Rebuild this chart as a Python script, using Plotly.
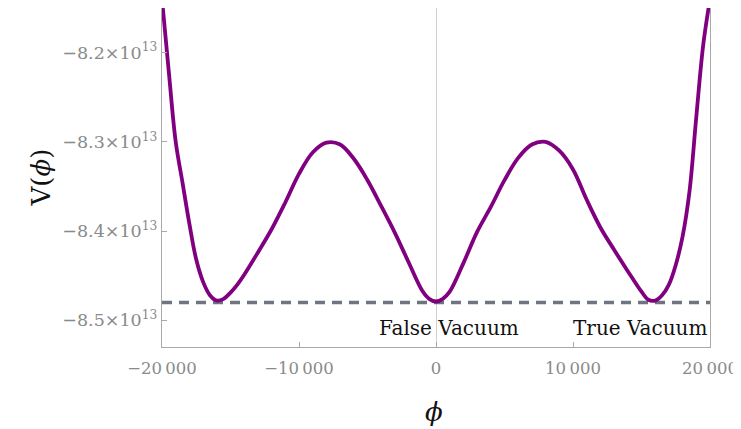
import plotly.graph_objects as go

# Field values (phi) and potential V(phi)
phi = [-20000, -19500, -19000, -18500, -18000, -17500, -17000, -16500, -16000,
       -15500, -15000, -14500, -14000, -13000, -12000, -11000, -10000, -9000,
       -8000, -7000, -6000, -5000, -4000, -3000, -2000, -1000, -500, 0,
       500, 1000, 2000, 3000, 4000, 5000, 6000, 7000, 8000, 9000, 10000,
       11000, 12000, 13000, 14000, 15000, 15500, 16000, 16500, 17000, 17500,
       18000, 18500, 19000, 19500, 20000]
V = [-8.140e13, -8.222e13, -8.300e13, -8.346e13, -8.392e13, -8.432e13, -8.457e13,
     -8.472e13, -8.478e13, -8.476e13, -8.469e13, -8.460e13, -8.449e13, -8.424e13,
     -8.398e13, -8.368e13, -8.336e13, -8.312e13, -8.301e13, -8.303e13, -8.319e13,
     -8.343e13, -8.372e13, -8.402e13, -8.435e13, -8.467e13, -8.476e13, -8.479e13,
     -8.476e13, -8.468e13, -8.436e13, -8.401e13, -8.373e13, -8.343e13, -8.318e13,
     -8.303e13, -8.300e13, -8.310e13, -8.331e13, -8.365e13, -8.396e13, -8.421e13,
     -8.445e13, -8.468e13, -8.477e13, -8.478e13, -8.472e13, -8.460e13, -8.438e13,
     -8.406e13, -8.356e13, -8.272e13, -8.192e13, -8.140e13]

vacuum_level = -8.48e13

x_ticks = [-20000, -10000, 0, 10000, 20000]
x_tick_labels = ["\u221220\u2009000", "\u221210\u2009000", "0", "10\u2009000", "20\u2009000"]
y_ticks = [-8.5e13, -8.4e13, -8.3e13, -8.2e13]
y_tick_labels = ["\u22128.5\u00d710<sup>13</sup>", "\u22128.4\u00d710<sup>13</sup>",
                 "\u22128.3\u00d710<sup>13</sup>", "\u22128.2\u00d710<sup>13</sup>"]

labels = ["False Vacuum", "True Vacuum"]
label_x = [930, 14880]
label_y = [-8.5087e13, -8.5087e13]

FONT = "DejaVu Serif"

fig = go.Figure()
fig.add_trace(go.Scatter(
    x=[-20000, 20000], y=[vacuum_level, vacuum_level], mode="lines",
    line=dict(color="#6e7480", width=3.5, dash="10px,7px"), hoverinfo="skip"))
fig.add_trace(go.Scatter(
    x=phi, y=V, mode="lines", line=dict(color="#800080", width=3.8, shape="spline", smoothing=1.0)))

for t, xx, yy in zip(labels, label_x, label_y):
    fig.add_annotation(x=xx, y=yy, text=t, showarrow=False,
                       font=dict(family=FONT, size=20, color="#111"))

fig.add_annotation(xref="paper", yref="paper", x=-0.252, y=0.5, text="V(<i>\u03d5</i>)",
                   textangle=-90, showarrow=False,
                   font=dict(family=FONT, size=26, color="#111"))
fig.add_annotation(xref="paper", yref="paper", x=0.497, y=-0.192, yanchor="middle",
                   text="<i>\u03d5</i>", showarrow=False,
                   font=dict(family=FONT, size=26, color="#111"))

axis_common = dict(showline=True, linecolor="#a8a8a8", linewidth=1.3, mirror=True,
                   ticks="inside", ticklen=5, tickcolor="#a8a8a8", showgrid=False,
                   automargin=False)

fig.update_xaxes(range=[-20000, 20000], tickvals=x_ticks, ticktext=x_tick_labels,
                 tickfont=dict(family=FONT, size=16.5, color="#8a8a8a"),
                 ticklabelstandoff=6,
                 zeroline=True, zerolinecolor="#d0d0d0", zerolinewidth=1, **axis_common)
fig.update_yaxes(range=[-8.530e13, -8.150e13], tickvals=y_ticks, ticktext=y_tick_labels,
                 tickfont=dict(family=FONT, size=17.5, color="#8a8a8a"),
                 zeroline=False, **axis_common)

# the page body adds an 8px offset, so the figure is sized to fit the window
fig.update_layout(width=733, height=421, showlegend=False,
                  margin=dict(l=154, r=31, t=0, b=82),
                  paper_bgcolor="white", plot_bgcolor="white")

fig.write_html("out.html")
